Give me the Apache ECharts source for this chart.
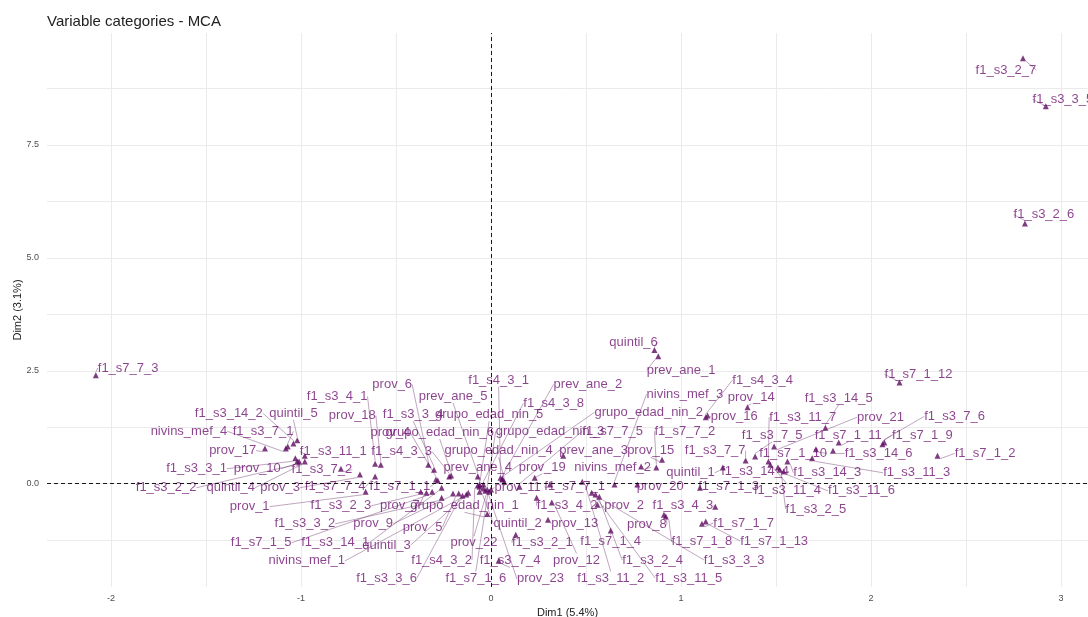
<!DOCTYPE html>
<html>
<head>
<meta charset="utf-8">
<script src="https://cdn.jsdelivr.net/npm/echarts@6/dist/echarts.min.js"></script>
<style>
  html, body { margin: 0; padding: 0; background: #fff; }
  #main { width: 1088px; height: 617px; }
</style>
</head>
<body>
<div id="main"></div>
<script>
// category names (MCA variable categories)
var names = [
  'f1_s3_2_7','f1_s3_3_5','f1_s3_2_6','f1_s7_7_3','quintil_6','prev_ane_1','f1_s7_1_12','f1_s4_3_1','prev_ane_2','f1_s4_3_4',
  'nivins_mef_3','prov_14','f1_s3_14_5','f1_s3_4_1','prov_6','prev_ane_5','f1_s3_14_2','quintil_5','prov_18','f1_s3_3_4',
  'grupo_edad_nin_5','grupo_edad_nin_2','prov_16','f1_s3_11_7','prov_21','f1_s3_7_6','f1_s7_1_9','nivins_mef_4','f1_s3_7_1','prov_4',
  'grupo_edad_nin_6','grupo_edad_nin_3','f1_s7_7_5','f1_s7_7_2','f1_s3_7_5','f1_s7_1_11','prov_17','f1_s3_11_1','f1_s4_3_3','grupo_edad_nin_4',
  'prev_ane_3','prov_15','f1_s3_7_7','f1_s7_1_10','f1_s3_14_6','f1_s7_1_2','f1_s3_3_1','prov_10','f1_s3_7_2','prev_ane_4',
  'prov_19','nivins_mef_2','quintil_1','f1_s3_14_4','f1_s3_14_3','f1_s3_11_3','f1_s3_2_2','quintil_4','prov_3','f1_s7_7_4',
  'f1_s7_1_1','prov_11','f1_s7_7_1','prov_20','f1_s7_1_3','f1_s3_11_4','f1_s3_11_6','prov_1','f1_s3_2_3','prov_7',
  'grupo_edad_nin_1','f1_s3_4_2','prov_2','f1_s3_4_3','f1_s3_2_5','f1_s3_3_2','prov_9','prov_5','quintil_2','prov_13',
  'prov_8','f1_s7_1_7','f1_s7_1_5','f1_s3_14_1','quintil_3','prov_22','f1_s3_2_1','f1_s7_1_4','f1_s7_1_8','f1_s7_1_13',
  'nivins_mef_1','f1_s4_3_2','f1_s3_7_4','prov_12','f1_s3_2_4','f1_s3_3_3','f1_s3_3_6','f1_s7_1_6','prov_23','f1_s3_11_2',
  'f1_s3_11_5','f1_s4_3_8'
];

// coordinates on Dim1
var dim1 = [
  2.80, 2.92, 2.81, -2.08, 0.86, 0.88, 2.15, 0.05, 0.06, 1.13,
  0.65, 1.35, 1.76, -0.61, -0.33, -0.07, -1.04, -1.02, -0.58, -0.30,
  -0.06, 0.06, 1.14, 1.46, 1.49, 2.07, 2.06, -1.08, -1.07, -0.29,
  -0.21, -0.02, 0.15, 0.87, 1.39, 1.83, -1.19, -0.98, -0.22, 0.07,
  0.38, 0.90, 1.34, 1.71, 1.80, 2.35, -1.03, -1.02, -0.79, -0.06,
  0.23, 0.79, 1.22, 1.52, 1.56, 1.69, -1.01, -0.98, -0.69, -0.61,
  -0.28, -0.04, 0.31, 0.77, 1.10, 1.47, 1.54, -0.66, -0.37, -0.34,
  -0.02, 0.24, 0.56, 1.18, 1.51, -0.26, -0.20, -0.17, -0.06, 0.30,
  0.91, 1.11, -0.31, -0.26, -0.13, -0.01, 0.13, 0.63, 0.92, 1.13,
  -0.12, -0.07, 0.04, 0.32, 0.55, 0.57, -0.15, 0.00, -0.03, 0.48,
  0.53, -0.04
];

// coordinates on Dim2
var dim2 = [
  9.42, 8.36, 5.76, 2.40, 2.96, 2.82, 2.24, 0.13, 0.11, 1.47,
  -0.02, 1.69, 1.24, 0.44, 0.42, 0.16, 0.89, 0.96, 0.42, 0.31,
  -0.07, 0.09, 1.51, 0.49, 0.82, 0.91, 0.87, 0.78, 0.82, 0.09,
  0.18, -0.13, -0.07, 0.36, 0.60, 0.91, 0.78, 0.62, 0.16, 0.04,
  0.62, 0.53, 0.51, 0.76, 0.73, 0.62, 0.56, 0.49, 0.33, -0.02,
  0.13, 0.38, 0.36, 0.31, 0.49, 0.56, 0.49, 0.49, 0.20, 0.16,
  0.07, -0.11, -0.02, -0.02, -0.09, 0.42, 0.27, -0.18, -0.18, -0.20,
  -0.67, -0.31, -0.47, -0.51, 0.36, -0.31, -0.22, -0.22, -0.18, -0.80,
  -0.69, -0.89, -0.18, -0.09, -0.24, -0.18, -1.13, -1.04, -0.73, -0.84,
  -0.20, -0.04, -1.71, -0.42, -0.24, -0.29, -0.27, -0.13, -0.16, 0.04,
  -0.20, -0.02
];

// where the repelled labels sit (axis units)
var labelX = [
  2.71, 3.01, 2.91, -1.91, 0.75, 1.00, 2.25, 0.04, 0.51, 1.43,
  1.02, 1.37, 1.83, -0.81, -0.52, -0.20, -1.38, -1.04, -0.73, -0.41,
  -0.01, 0.83, 1.28, 1.64, 2.05, 2.44, 2.27, -1.59, -1.20, -0.53,
  -0.27, 0.31, 0.64, 1.02, 1.48, 1.88, -1.36, -0.83, -0.47, 0.04,
  0.54, 0.84, 1.18, 1.59, 2.04, 2.60, -1.55, -1.23, -0.89, -0.07,
  0.27, 0.64, 1.05, 1.39, 1.77, 2.24, -1.71, -1.37, -1.11, -0.82,
  -0.48, 0.14, 0.44, 0.89, 1.25, 1.56, 1.95, -1.27, -0.79, -0.48,
  -0.14, 0.40, 0.70, 1.01, 1.71, -0.98, -0.62, -0.36, 0.14, 0.44,
  0.82, 1.33, -1.21, -0.82, -0.55, -0.09, 0.27, 0.63, 1.11, 1.49,
  -0.97, -0.26, 0.10, 0.45, 0.85, 1.28, -0.55, -0.08, 0.26, 0.63,
  1.04, 0.33
];
var labelY = [
  9.16, 8.51, 5.96, 2.56, 3.13, 2.51, 2.42, 2.29, 2.20, 2.29,
  1.98, 1.91, 1.89, 1.93, 2.20, 1.93, 1.56, 1.56, 1.51, 1.53,
  1.53, 1.58, 1.49, 1.47, 1.47, 1.49, 1.07, 1.16, 1.16, 1.13,
  1.13, 1.16, 1.16, 1.16, 1.07, 1.07, 0.73, 0.71, 0.71, 0.73,
  0.73, 0.73, 0.73, 0.67, 0.67, 0.67, 0.33, 0.33, 0.31, 0.36,
  0.36, 0.36, 0.24, 0.27, 0.24, 0.24, -0.09, -0.09, -0.09, -0.07,
  -0.07, -0.09, -0.07, -0.07, -0.07, -0.16, -0.16, -0.51, -0.49, -0.49,
  -0.49, -0.49, -0.49, -0.49, -0.56, -0.89, -0.89, -0.96, -0.89, -0.89,
  -0.91, -0.87, -1.31, -1.31, -1.36, -1.31, -1.31, -1.29, -1.29, -1.27,
  -1.71, -1.69, -1.71, -1.69, -1.69, -1.69, -2.09, -2.09, -2.11, -2.09,
  -2.09, 1.78
];

// ticks / grid
var xTicks = [-2, -1, 0, 1, 2, 3];
var xGrid = [-2, -1.5, -1, -0.5, 0, 0.5, 1, 1.5, 2, 2.5, 3];
var yTicks = [0, 2.5, 5, 7.5];
var yGrid = [-1.25, 0, 1.25, 2.5, 3.75, 5, 6.25, 7.5, 8.75];

var purple = '#6e1470';
var chart = echarts.init(document.getElementById('main'));

var points = names.map(function(n, i) {
    return { name: n, value: [dim1[i], dim2[i]] };
});

var option = {
    animation: false,
    textStyle: { fontFamily: 'Liberation Sans, Arial, sans-serif' },
    title: {
        text: 'Variable categories - MCA',
        left: 42,
        top: 9,
        textStyle: { fontSize: 15, fontWeight: 'normal', color: '#222' }
    },
    grid: { left: 47, right: 0, top: 33, bottom: 30, outerBoundsMode: 'none', containLabel: false },
    xAxis: {
        type: 'value',
        min: -2.337,
        max: 3.142,
        name: 'Dim1 (5.4%)',
        nameLocation: 'middle',
        nameGap: 20,
        nameMoveOverlap: false,
        nameTextStyle: { fontSize: 11, color: '#222' },
        axisLine: { show: false },
        axisTick: { show: false, customValues: xGrid },
        axisLabel: { customValues: xTicks, fontSize: 9, color: '#4d4d4d', margin: 7 },
        splitLine: { show: true, lineStyle: { color: '#ebebeb', width: 1 } }
    },
    yAxis: {
        type: 'value',
        min: -2.289,
        max: 9.98,
        name: 'Dim2 (3.1%)',
        nameLocation: 'middle',
        nameRotate: 90,
        nameGap: 24,
        nameMoveOverlap: false,
        nameTextStyle: { fontSize: 11, color: '#222' },
        axisLine: { show: false },
        axisTick: { show: false, customValues: yGrid },
        axisLabel: {
            customValues: yTicks, fontSize: 9, color: '#4d4d4d', margin: 8,
            formatter: function(v) { return v.toFixed(1); }
        },
        splitLine: { show: true, lineStyle: { color: '#ebebeb', width: 1 } }
    },
    series: [{
        type: 'scatter',
        symbol: 'triangle',
        symbolSize: 6,
        itemStyle: { color: '#5e0a60' },
        data: points,
        label: {
            show: true,
            formatter: function(p) { return p.name; },
            color: purple,
            fontSize: 13
        },
        labelLine: {
            show: true,
            lineStyle: { color: 'rgba(100,40,100,0.6)', width: 0.7 }
        },
        labelLayout: function(params) {
            var i = params.dataIndex;
            var p = chart.convertToPixel({ xAxisIndex: 0, yAxisIndex: 0 }, [labelX[i], labelY[i]]);
            return { x: p[0], y: p[1], align: 'center', verticalAlign: 'middle' };
        },
        markLine: {
            silent: true,
            symbol: 'none',
            label: { show: false },
            lineStyle: { color: '#000', type: [4, 3], width: 0.9 },
            data: [{ xAxis: 0 }, { yAxis: 0 }]
        }
    }]
};

chart.setOption(option);
</script>
</body>
</html>
